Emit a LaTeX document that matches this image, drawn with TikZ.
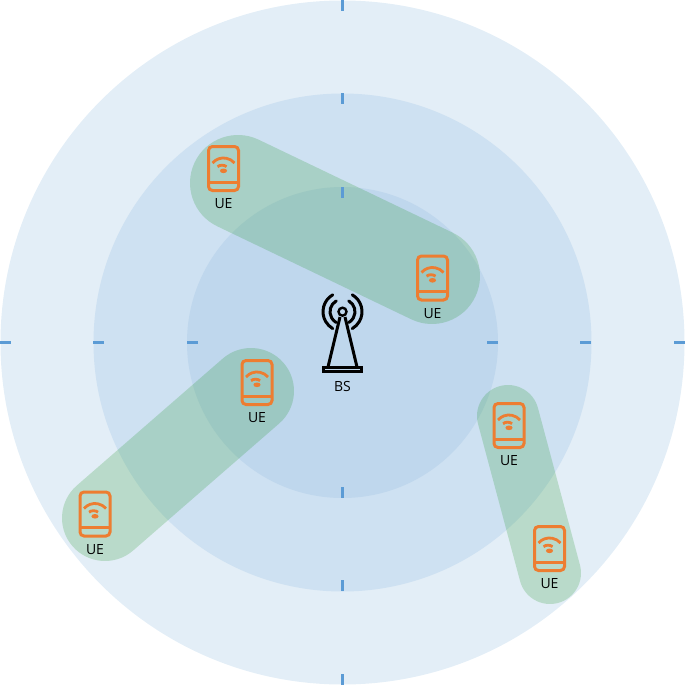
\documentclass[tikz,border=0pt]{standalone}
\usepackage{fontspec}
\setmainfont{Open Sans}
\definecolor{ringA}{HTML}{E3EEF7}
\definecolor{ringB}{HTML}{CEE1F2}
\definecolor{ringC}{HTML}{BFD7ED}
\definecolor{tickc}{HTML}{5B9BD5}
\definecolor{capc}{HTML}{118E16}
\definecolor{phonec}{HTML}{ED7D31}
\tikzset{
  x=1pt,y=1pt,
  ring/.style={draw=none,circle,inner sep=0pt,minimum size=#1},
  tickmark/.style={draw=tickc,line width=3pt},
  capsule/.style={draw=capc,line width=#1,line cap=round,opacity=.2},
  lab/.style={font=\fontsize{14}{15}\selectfont,text=black,inner sep=0pt},
  pics/phone/.style={code={
    \draw[phonec,line width=3pt,rounded corners=4pt] (-15,-22) rectangle (15,22);
    \draw[phonec,line width=3pt] (-15,-13.5) -- (15,-13.5);
    \draw[phonec,line width=2.8pt] (-11,5.5) arc[start angle=139,end angle=41,radius=14.6];
    \draw[phonec,line width=2.8pt] (-6,1.8) arc[start angle=127,end angle=53,radius=7.5];
    \fill[phonec] (0,-2.3) ellipse[x radius=3.6,y radius=2.3];
  }},
}
\begin{document}
\begin{tikzpicture}
\useasboundingbox (0,0) rectangle (685,-685);
\node[ring=684pt,fill=ringA] (outer) at (342.5,-342.5) {};
\node[ring=498pt,fill=ringB] (middle) at (342.5,-342.5) {};
\node[ring=311pt,fill=ringC] (inner) at (342.5,-342.5) {};
% capsules
\coordinate (c1a) at (238,-183);
\coordinate (c1b) at (432,-276);
\coordinate (c2a) at (251,-391);
\coordinate (c2b) at (105,-518);
\coordinate (c3a) at (508,-416);
\coordinate (c3b) at (550,-573);
\draw[capsule=96pt] (c1a) -- (c1b);
\draw[capsule=86pt] (c2a) -- (c2b);
\draw[capsule=62pt] (c3a) -- (c3b);
% ticks
\foreach \a/\b in {0/11,93/104,187/198,487/498,580/591,674/685}{
  \draw[tickmark] (342.5,-\a) -- (342.5,-\b);
  \draw[tickmark] (\a,-342.5) -- (\b,-342.5);
}
% phones
\foreach \n/\x/\y in {a/223.5/168.5,b/432.5/278,c/257/382.5,d/95/514,e/509/425.5,f/549.5/548.5}{
  \pic at (\x,-\y) {phone};
  \node[lab] (ue\n) at (\x,-\y-35.5) {UE};
}
% base station
\draw[black,line width=3pt] (340,-317) -- (328,-367);
\draw[black,line width=3pt] (345,-317) -- (357,-367);
\draw[black,line width=2.6pt] (323.5,-367.5) rectangle (361.5,-371.5);
\draw[black,line width=2.4pt] (342.5,-311.7) circle[radius=4];
\foreach \r in {12.5,19.5}{
  \draw[black,line width=3pt,line cap=round] (342.5,-311.7) ++(120:\r pt) arc[start angle=120,end angle=240,radius=\r pt];
  \draw[black,line width=3pt,line cap=round] (342.5,-311.7) ++(60:\r pt) arc[start angle=60,end angle=-60,radius=\r pt];
}
\node[lab] (bs) at (342.5,-386) {BS};
\end{tikzpicture}
\end{document}
